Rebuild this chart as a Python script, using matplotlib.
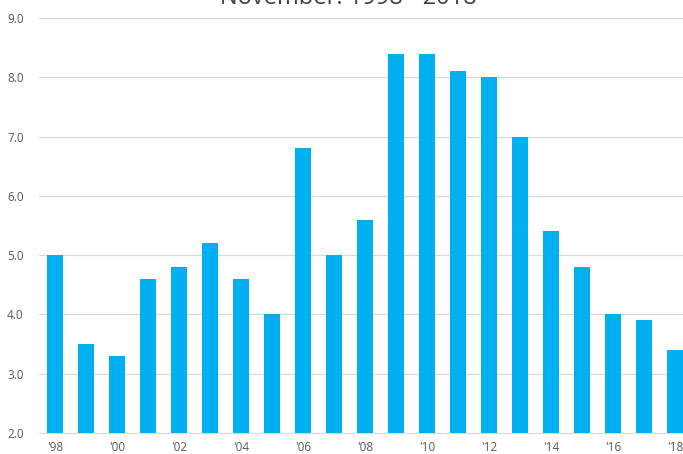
import matplotlib
matplotlib.use("Agg")
import matplotlib.pyplot as plt

# ========= data =========
years = list(range(1998, 2019))
values = [5.0, 3.5, 3.3, 4.6, 4.8, 5.2, 4.6, 4.0, 6.8, 5.0, 5.6,
          8.4, 8.4, 8.1, 8.0, 7.0, 5.4, 4.8, 4.0, 3.9, 3.4]
tick_labels = ["'%02d" % (y % 100) if i % 2 == 0 else "" for i, y in enumerate(years)]
title = "November: 1998 - 2018"

plt.rcParams['font.family'] = ['Open Sans', 'DejaVu Sans']

fig = plt.figure(figsize=(6.83, 4.54), dpi=100)
ax = fig.add_axes([39/683, 21/454, 1 - 39/683, 415/454])

x = list(range(len(years)))
ax.bar(x, values, width=0.52, color="#00B0F0", zorder=3)

ax.set_ylim(2.0, 9.0)
ax.set_yticks([2, 3, 4, 5, 6, 7, 8, 9])
ax.set_yticklabels(["%.1f" % v for v in range(2, 10)])
ax.set_xlim(-0.52, 20.26)
ax.set_xticks(x)
ax.set_xticklabels(tick_labels)

ax.grid(axis="y", color="#D9D9D9", linewidth=0.9, zorder=0)
for s in ["top", "right", "left"]:
    ax.spines[s].set_visible(False)
ax.spines["bottom"].set_color("#D9D9D9")
ax.tick_params(axis="both", length=0, labelsize=8.5, colors="#595959")
ax.tick_params(axis="x", pad=6)
ax.tick_params(axis="y", pad=11)

# title sits partly above the top edge, as in the original
fig.text(0.51, 0.991, title, ha="center", va="baseline", fontsize=17, color="#404040")

fig.savefig("out.png", dpi=100)
